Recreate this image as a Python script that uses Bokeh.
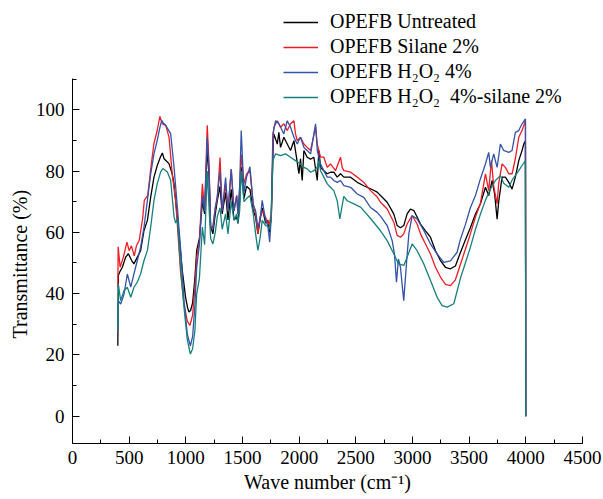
from bokeh.plotting import figure
from bokeh.models import Range1d, SingleIntervalTicker, Legend, LegendItem, Title
from bokeh.embed import file_html
from bokeh.resources import INLINE

# (wave number cm^-1, transmittance %)
untreated = [
    (400, 23.0), (405, 46.0), (416, 47.0), (440, 48.6), (469, 51.9), (493, 53.0), (522, 50.8),
    (542, 49.7), (572, 51.9), (601, 54.0), (631, 60.6), (661, 63.9), (690, 71.5), (719, 78.0),
    (748, 81.8), (775, 84.5), (793, 85.9), (808, 84.0), (822, 83.5), (851, 82.4), (880, 79.1),
    (895, 76.0), (910, 70.4), (939, 59.5), (969, 47.5), (998, 38.8), (1015, 35.5), (1027, 34.0),
    (1042, 34.5), (1060, 37.0), (1080, 45.0), (1096, 54.1), (1120, 58.0), (1146, 70.0),
    (1166, 66.0), (1189, 87.8), (1205, 78.0), (1219, 62.0), (1239, 59.5), (1260, 66.0),
    (1278, 70.4), (1302, 75.0), (1321, 66.0), (1351, 73.0), (1372, 64.0), (1401, 74.0),
    (1425, 64.0), (1449, 65.0), (1460, 62.9), (1475, 70.0), (1489, 81.3), (1513, 71.0),
    (1536, 75.0), (1566, 74.0), (1595, 67.0), (1616, 65.0), (1636, 59.5), (1655, 64.0),
    (1674, 68.0), (1704, 63.0), (1724, 64.0), (1736, 60.0), (1754, 65.0), (1772, 90.0),
    (1777, 92.1), (1807, 88.8), (1821, 92.6), (1836, 87.7), (1865, 91.0), (1895, 88.8),
    (1924, 86.7), (1954, 89.9), (1983, 82.9), (1998, 79.1), (2012, 84.0), (2027, 76.9),
    (2042, 86.7), (2071, 84.5), (2101, 83.9), (2130, 84.5), (2160, 76.9), (2174, 86.7),
    (2189, 81.2), (2218, 80.1), (2248, 79.1), (2277, 79.6), (2306, 79.6), (2336, 78.0),
    (2365, 79.1), (2395, 78.0), (2454, 78.0), (2513, 76.3), (2571, 75.2), (2630, 74.2),
    (2689, 73.1), (2718, 72.0), (2777, 69.8), (2835, 66.0), (2865, 62.2), (2894, 61.5),
    (2923, 62.2), (2953, 66.0), (2982, 67.6), (3012, 67.1), (3041, 65.0), (3071, 62.7),
    (3115, 60.5), (3159, 58.4), (3203, 54.0), (3247, 50.8), (3291, 48.6), (3335, 48.1),
    (3379, 49.0), (3424, 53.5), (3467, 57.5), (3511, 61.5), (3556, 66.0), (3600, 69.3),
    (3644, 74.7), (3673, 72.0), (3703, 76.9), (3725, 72.5), (3747, 64.3), (3761, 70.0),
    (3791, 78.0), (3820, 78.0), (3850, 76.3), (3879, 74.1), (3908, 78.0), (3938, 83.4),
    (3967, 86.7), (3982, 88.8), (3997, 89.9), (4000, 0.0),
]

silane = [
    (400, 42.0), (403, 55.3), (420, 48.6), (450, 52.0), (480, 56.8), (500, 54.0), (520, 55.6),
    (545, 52.3), (564, 55.6), (589, 57.4), (619, 64.5), (634, 70.5), (664, 72.0), (689, 80.2),
    (718, 88.9), (748, 93.3), (771, 97.8), (793, 95.4), (823, 94.9), (852, 91.0), (880, 79.0),
    (910, 70.4), (931, 59.5), (955, 46.4), (984, 36.6), (1013, 31.0), (1036, 29.6), (1060, 33.0),
    (1080, 42.0), (1096, 52.0), (1120, 57.0), (1146, 75.8), (1166, 67.0), (1189, 94.9),
    (1205, 82.0), (1219, 61.0), (1239, 62.0), (1260, 68.0), (1278, 71.0), (1302, 84.4),
    (1321, 67.0), (1351, 75.8), (1372, 67.0), (1401, 80.6), (1425, 67.0), (1449, 72.0),
    (1460, 66.0), (1475, 74.0), (1489, 85.4), (1513, 75.9), (1536, 79.0), (1566, 80.0),
    (1595, 69.0), (1616, 66.0), (1636, 59.5), (1655, 65.0), (1674, 67.0), (1704, 64.9),
    (1724, 63.0), (1736, 62.5), (1754, 66.0), (1772, 92.0), (1777, 94.3), (1807, 96.4),
    (1836, 94.3), (1865, 95.4), (1895, 93.2), (1924, 95.4), (1954, 96.4), (1968, 92.1),
    (1983, 89.9), (2012, 91.0), (2042, 88.8), (2071, 87.7), (2101, 86.7), (2145, 94.3),
    (2160, 88.8), (2189, 84.5), (2218, 84.5), (2248, 81.2), (2277, 82.3), (2321, 80.1),
    (2365, 84.5), (2380, 81.2), (2395, 80.1), (2454, 79.6), (2513, 78.0), (2571, 76.3),
    (2630, 73.6), (2689, 71.5), (2718, 69.8), (2777, 67.6), (2835, 63.3), (2865, 59.0),
    (2894, 58.4), (2923, 59.5), (2953, 62.7), (2997, 65.5), (3041, 62.7), (3071, 59.5),
    (3115, 56.2), (3159, 52.9), (3203, 48.6), (3247, 45.4), (3291, 43.0), (3335, 42.6),
    (3379, 44.5), (3423, 49.5), (3467, 54.5), (3511, 59.5), (3556, 65.0), (3600, 69.5),
    (3644, 79.1), (3673, 73.6), (3697, 83.4), (3717, 75.0), (3747, 69.3), (3761, 76.0),
    (3791, 82.3), (3820, 81.2), (3850, 79.1), (3879, 79.1), (3908, 84.0), (3938, 91.0),
    (3967, 93.2), (3982, 94.8), (3997, 96.4), (4000, 0.0),
]

h2o2 = [
    (400, 30.0), (404, 37.7), (425, 36.6), (455, 39.9), (484, 46.4), (514, 42.1), (542, 46.4),
    (572, 50.8), (601, 55.1), (631, 61.7), (661, 70.4), (690, 79.1), (719, 85.6), (748, 90.0),
    (770, 94.0), (787, 96.5), (805, 95.5), (822, 94.9), (866, 92.2), (896, 81.3), (925, 68.3),
    (955, 54.1), (984, 37.7), (1013, 26.8), (1040, 23.0), (1060, 26.0), (1080, 36.0),
    (1096, 48.6), (1120, 56.0), (1146, 72.0), (1166, 67.0), (1189, 91.0), (1205, 80.0),
    (1219, 62.0), (1239, 61.0), (1260, 68.0), (1278, 72.0), (1302, 80.0), (1321, 67.0),
    (1351, 77.9), (1372, 67.0), (1401, 80.6), (1425, 67.0), (1449, 72.0), (1460, 66.0),
    (1475, 75.0), (1489, 93.2), (1513, 73.0), (1536, 78.0), (1566, 81.4), (1595, 69.0),
    (1616, 67.0), (1636, 61.5), (1655, 64.0), (1674, 70.4), (1704, 64.0), (1724, 62.0),
    (1740, 56.8), (1754, 65.0), (1768, 92.0), (1792, 96.4), (1821, 95.4), (1836, 94.3),
    (1865, 92.1), (1895, 96.4), (1924, 94.3), (1954, 91.0), (1983, 88.8), (2012, 91.0),
    (2042, 87.7), (2071, 86.7), (2101, 85.6), (2145, 95.4), (2160, 86.7), (2189, 82.3),
    (2218, 80.1), (2248, 78.0), (2277, 78.0), (2306, 76.9), (2336, 76.3), (2365, 76.9),
    (2395, 75.2), (2454, 74.7), (2513, 72.5), (2571, 71.4), (2630, 68.1), (2689, 66.5),
    (2718, 65.3), (2777, 62.2), (2821, 57.3), (2841, 53.0), (2859, 43.7), (2876, 51.3),
    (2894, 48.6), (2923, 37.7), (2947, 49.7), (2968, 59.5), (2997, 65.4), (3041, 64.4),
    (3100, 60.6), (3159, 56.2), (3218, 52.9), (3277, 50.2), (3335, 50.7), (3394, 53.5),
    (3423, 57.7), (3467, 62.5), (3511, 68.0), (3556, 72.0), (3600, 77.5), (3644, 82.3),
    (3673, 86.1), (3688, 81.2), (3717, 85.6), (3747, 81.2), (3776, 88.8), (3805, 86.7),
    (3850, 86.1), (3879, 86.7), (3908, 92.6), (3938, 93.2), (3967, 95.4), (3997, 97.0),
    (4000, 0.0),
]

h2o2_silane = [
    (400, 28.0), (404, 43.2), (425, 37.7), (455, 41.0), (484, 42.1), (514, 38.8), (542, 42.0),
    (572, 43.8), (601, 46.4), (631, 50.8), (661, 54.1), (690, 61.7), (719, 70.4), (748, 75.9),
    (778, 79.7), (798, 80.8), (837, 79.7), (866, 77.0), (896, 65.1), (910, 63.0), (925, 64.5),
    (955, 48.0), (984, 35.5), (1013, 25.0), (1040, 20.3), (1060, 22.0), (1080, 28.0),
    (1096, 39.9), (1120, 45.0), (1146, 61.7), (1166, 56.0), (1189, 80.0), (1205, 68.0),
    (1219, 58.0), (1239, 56.2), (1260, 60.0), (1278, 65.2), (1302, 68.0), (1321, 61.0),
    (1351, 66.0), (1372, 59.5), (1401, 70.0), (1425, 64.0), (1449, 66.0), (1460, 63.0),
    (1475, 67.0), (1489, 80.0), (1513, 70.0), (1536, 71.0), (1566, 72.0), (1595, 66.0),
    (1616, 59.5), (1636, 54.1), (1655, 58.0), (1674, 63.9), (1704, 62.2), (1724, 62.0),
    (1736, 61.0), (1754, 64.0), (1768, 83.4), (1792, 85.6), (1836, 85.0), (1880, 85.6),
    (1924, 84.5), (1968, 83.4), (2012, 82.3), (2042, 81.2), (2071, 80.7), (2101, 79.6),
    (2130, 80.1), (2160, 81.2), (2174, 83.4), (2189, 80.1), (2218, 78.0), (2248, 75.8),
    (2277, 74.7), (2306, 73.6), (2336, 70.3), (2359, 64.4), (2394, 71.7), (2424, 70.3),
    (2483, 69.3), (2542, 68.2), (2630, 64.5), (2718, 60.5), (2777, 57.3), (2835, 53.0),
    (2876, 49.7), (2923, 49.2), (2953, 51.9), (2997, 56.2), (3041, 54.0), (3100, 49.7),
    (3159, 44.3), (3218, 38.8), (3262, 36.1), (3306, 35.6), (3365, 36.7), (3423, 45.0),
    (3467, 50.0), (3511, 55.1), (3556, 61.0), (3600, 66.0), (3644, 70.5), (3688, 74.1),
    (3732, 76.9), (3776, 78.5), (3805, 76.0), (3850, 74.7), (3879, 77.0), (3938, 80.1),
    (3967, 81.8), (3997, 83.4), (4000, 0.0),
]

series_labels = ["OPEFB Untreated", "OPEFB Silane 2%", "OPEFB H\u2082O\u2082 4%",
                 "OPEFB H\u2082O\u2082  4%-silane 2%"]
series_colors = ["#000000", "#ee1c24", "#3453a8", "#17807e"]
x_ticks = [0, 500, 1000, 1500, 2000, 2500, 3000, 3500, 4000, 4500]
y_ticks = [0, 20, 40, 60, 80, 100]
y_axis_bounds = (-8.9, 110.3)

FONT = "Liberation Serif"

# frame reaches the top of the page so the legend (above the y axis end) is not clipped
p = figure(width=603, height=499, output_backend="svg", toolbar_location=None,
           x_range=Range1d(0, 4500.5), y_range=Range1d(-8.9, 134.0),
           min_border_left=72, min_border_right=21, min_border_top=5, min_border_bottom=56)
p.outline_line_color = None
p.xgrid.visible = False
p.ygrid.visible = False
p.background_fill_color = "white"
p.border_fill_color = "white"

renderers = []
for data, col in zip([untreated, silane, h2o2, h2o2_silane], series_colors):
    xs = [d[0] for d in data]
    ys = [d[1] for d in data]
    renderers.append(p.line(xs, ys, line_color=col, line_width=1.3))

p.xaxis.ticker = SingleIntervalTicker(interval=x_ticks[1] - x_ticks[0], num_minor_ticks=2)
p.yaxis.ticker = SingleIntervalTicker(interval=y_ticks[1] - y_ticks[0], num_minor_ticks=2)
p.yaxis.bounds = y_axis_bounds

for ax in [p.xaxis[0], p.yaxis[0]]:
    ax.axis_line_color = "black"
    ax.axis_line_width = 1
    ax.major_tick_line_color = "black"
    ax.minor_tick_line_color = "black"
    ax.major_tick_in = 7
    ax.major_tick_out = 0
    ax.minor_tick_in = 4
    ax.minor_tick_out = 0
    ax.major_label_text_font = FONT
    ax.major_label_text_font_size = "19px"
    ax.major_label_text_color = "black"
    ax.axis_label_text_font = FONT
    ax.axis_label_text_font_size = "20px"
    ax.axis_label_text_font_style = "normal"
    ax.axis_label_text_color = "black"

p.xaxis.axis_label = "Wave number (cm\u207b\u00b9)"
p.xaxis.major_label_standoff = 7
p.xaxis.axis_label_standoff = 4
p.yaxis.major_label_standoff = 8

# y-axis title placed along the bounded axis (not centred on the taller frame)
ytitle = Title(text="Transmittance (%)", align="left", offset=105, standoff=3,
               text_font=FONT, text_font_size="20px", text_font_style="normal",
               text_color="black")
p.add_layout(ytitle, "left")

items = [LegendItem(label=lab, renderers=[r]) for lab, r in zip(series_labels, renderers)]
legend = Legend(items=items, location=(211, 335), orientation="vertical",
                glyph_width=35, glyph_height=20, label_height=20, label_standoff=12,
                spacing=2, padding=0, margin=0, border_line_color=None,
                background_fill_alpha=0, label_text_font=FONT, label_text_font_size="20px",
                label_text_color="black")
p.add_layout(legend)

open("out.html", "w").write(file_html(p, INLINE))
